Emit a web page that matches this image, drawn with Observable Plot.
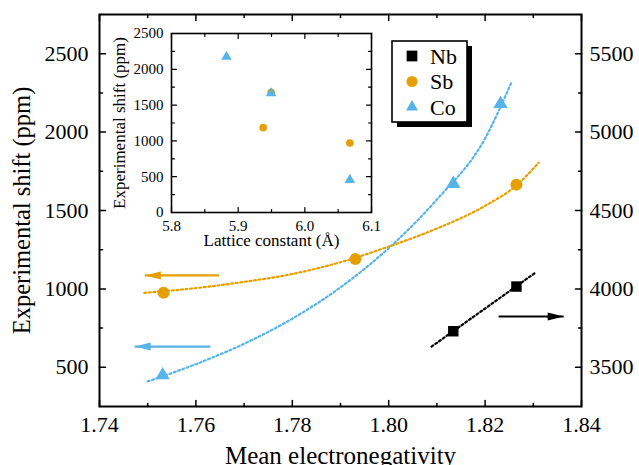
<!DOCTYPE html>
<html><head><meta charset="utf-8">
<script src="https://cdn.jsdelivr.net/npm/d3@7"></script>
<script src="https://cdn.jsdelivr.net/npm/@observablehq/plot@0.6"></script>
<style>
body{margin:0;background:#fff;}
#wrap{position:relative;width:639px;height:465px;font-family:"Liberation Serif","Times New Roman",serif;}
#wrap > *{position:absolute;}
#wrap svg text{font-family:"Liberation Serif","Times New Roman",serif;font-variant-numeric:normal;}
</style></head><body><div id="wrap"></div>
<script>
// ---------------- data ----------------
const seriesNames = ["Nb", "Sb", "Co"];
// main panel: mean electronegativity vs experimental shift
const coEN = [1.7531, 1.8134, 1.8232];
const coShift = [450, 1670, 2180];
const sbEN = [1.7533, 1.7931, 1.8265];
const sbShift = [975, 1190, 1665];
const nbEN = [1.8134, 1.8265];
const nbShiftRight = [3730, 4015]; // read on the right axis
// inset: lattice constant vs experimental shift
const coLattice = [6.0675, 5.9495, 5.8825];
const coShiftInset = [455, 1665, 2175];
const sbLattice = [6.0675, 5.9375, 5.9495];
const sbShiftInset = [970, 1185, 1680];
// dotted fit curves
const coFitEN = [1.750, 1.760, 1.770, 1.780, 1.790, 1.800, 1.810, 1.820, 1.8255];
const coFitShift = [410, 520, 650, 810, 1010, 1260, 1570, 1960, 2320];
const sbFitEN = [1.7493, 1.760, 1.770, 1.780, 1.790, 1.800, 1.810, 1.820, 1.8267, 1.8311];
const sbFitShift = [975, 1005, 1045, 1095, 1170, 1270, 1385, 1530, 1665, 1805];
const nbFitEN = [1.8089, 1.8305];
const nbFitShiftRight = [3632, 4105];
// axis arrows
const arrowSeries = ["Sb", "Co", "Nb"];
const arrowTail = [1.7648, 1.7630, 1.8228];
const arrowTip = [1.7494, 1.7473, 1.8363];
const arrowShift = [1086, 632, 3824];
const arrowOnRight = [false, false, true];
// ticks
const enTicks = [1.74, 1.76, 1.78, 1.80, 1.82, 1.84];
const enMinor = [1.75, 1.77, 1.79, 1.81, 1.83];
const shiftTicks = [500, 1000, 1500, 2000, 2500];
const shiftMinor = [750, 1250, 1750, 2250];
const rightTickLabels = [3500, 4000, 4500, 5000, 5500];
const latTicks = [5.8, 5.9, 6.0, 6.1];
const latMinor = [5.85, 5.95, 6.05];
const insetTicks = [0, 500, 1000, 1500, 2000, 2500];
const insetMinor = [250, 750, 1250, 1750, 2250];

// ---------------- styles ----------------
const FONT = '"Liberation Serif","Times New Roman",serif';
const COLORS = {Nb: "#000000", Sb: "#E69F00", Co: "#56B4E9"};
const SYMBOLS = {Nb: "square", Sb: "circle", Co: "triangle"};
const rightOffset = rightTickLabels[0] - shiftTicks[0];

const rows = (xs, ys, off = 0) => xs.map((x, i) => ({x, y: ys[i] - off}));

const tickShape = {draw(ctx, l) { ctx.moveTo(0, 0); ctx.lineTo(0, -l); }};
function tickMarks(values, side, len, sw) {
  const horiz = side === "bottom" || side === "top";
  const rot = {bottom: 0, top: 180, left: 90, right: 270}[side];
  return Plot.vector(values, {
    ...(horiz ? {x: d => d} : {y: d => d}),
    frameAnchor: side, length: len, rotate: rot, anchor: "start",
    shape: tickShape, stroke: "black", strokeWidth: sw
  });
}
function allTicks(xMaj, xMin, yMaj, yMin, big, small, sw) {
  const out = [];
  for (const s of ["bottom", "top"]) { out.push(tickMarks(xMaj, s, big, sw), tickMarks(xMin, s, small, sw)); }
  for (const s of ["left", "right"]) { out.push(tickMarks(yMaj, s, big, sw), tickMarks(yMin, s, small, sw)); }
  return out;
}
const headLeft = {draw(ctx) { ctx.moveTo(0, 0); ctx.lineTo(16, -4); ctx.lineTo(16, 4); ctx.closePath(); }};
const headRight = {draw(ctx) { ctx.moveTo(0, 0); ctx.lineTo(-16, -4); ctx.lineTo(-16, 4); ctx.closePath(); }};
const txt = {fontFamily: FONT, fill: "black"};

// ---------------- main plot ----------------
const dotted = {strokeWidth: 2.2, strokeDasharray: "2,2.6", curve: "monotone-x"};
const arrowMarks = [];
arrowSeries.forEach((s, i) => {
  const d = [{tail: arrowTail[i], tip: arrowTip[i], y: arrowShift[i] - (arrowOnRight[i] ? rightOffset : 0)}];
  arrowMarks.push(Plot.link(d, {x1: "tail", x2: "tip", y1: "y", y2: "y", stroke: COLORS[s], strokeWidth: 2.2}));
  arrowMarks.push(Plot.dot(d, {x: "tip", y: "y", symbol: arrowTip[i] < arrowTail[i] ? headLeft : headRight, fill: COLORS[s], r: 4}));
});

const main = Plot.plot({
  width: 639, height: 465,
  marginLeft: 99, marginRight: 58, marginTop: 14, marginBottom: 59,
  x: {domain: [1.74, 1.84]},
  y: {domain: [250, 2750]},
  style: {fontFamily: FONT, background: "transparent", color: "black", overflow: "visible"},
  marks: [
    Plot.line(rows(coFitEN, coFitShift), {x: "x", y: "y", stroke: COLORS.Co, ...dotted}),
    Plot.line(rows(sbFitEN, sbFitShift), {x: "x", y: "y", stroke: COLORS.Sb, ...dotted}),
    Plot.line(rows(nbFitEN, nbFitShiftRight, rightOffset), {x: "x", y: "y", stroke: COLORS.Nb, ...dotted, curve: "linear"}),
    ...arrowMarks,
    Plot.dot(rows(sbEN, sbShift), {x: "x", y: "y", symbol: "circle", r: 6, fill: COLORS.Sb}),
    Plot.dot(rows(coEN, coShift), {x: "x", y: "y", symbol: "triangle", r: 5.3, fill: COLORS.Co}),
    Plot.dot(rows(nbEN, nbShiftRight, rightOffset), {x: "x", y: "y", symbol: "square", r: 5.9, fill: COLORS.Nb}),
    ...allTicks(enTicks, enMinor, shiftTicks, shiftMinor, 6, 3, 1.5),
    Plot.frame({stroke: "black", strokeWidth: 2}),
    Plot.axisX({ticks: enTicks, tickSize: 0, tickPadding: 10, tickFormat: d => d.toFixed(2), fontSize: 22, label: null, ...txt}),
    Plot.axisY({anchor: "left", ticks: shiftTicks, tickSize: 0, tickPadding: 11, tickFormat: d3.format("d"), fontSize: 22, label: null, ...txt}),
    Plot.axisY({anchor: "right", ticks: shiftTicks, tickSize: 0, tickPadding: 8, tickFormat: d => String(d + rightOffset), fontSize: 22, label: null, ...txt}),
    Plot.text(["Mean electronegativity"], {frameAnchor: "bottom", lineAnchor: "middle", textAnchor: "middle", dy: 49, fontSize: 25, ...txt}),
    Plot.text(["Experimental shift (ppm)"], {frameAnchor: "left", lineAnchor: "middle", textAnchor: "middle", dx: -77, rotate: -90, fontSize: 24.5, ...txt})
  ]
});
main.style.left = "0px"; main.style.top = "0px";
document.getElementById("wrap").appendChild(main);

// ---------------- inset ----------------
const inset = Plot.plot({
  width: 280, height: 235,
  marginLeft: 71, marginRight: 9, marginTop: 13, marginBottom: 43,
  x: {domain: [5.8, 6.1]},
  y: {domain: [0, 2500]},
  style: {fontFamily: FONT, background: "transparent", color: "black", overflow: "visible"},
  marks: [
    Plot.dot(rows(sbLattice, sbShiftInset), {x: "x", y: "y", symbol: "circle", r: 3.8, fill: COLORS.Sb}),
    Plot.dot(rows(coLattice, coShiftInset), {x: "x", y: "y", symbol: "triangle", r: 3.9, fill: COLORS.Co}),
    ...allTicks(latTicks, latMinor, insetTicks, insetMinor, 5, 3, 1.2),
    Plot.frame({stroke: "black", strokeWidth: 1.6}),
    Plot.axisX({ticks: latTicks, tickSize: 0, tickPadding: 8, tickFormat: d => d.toFixed(1), fontSize: 15, label: null, ...txt}),
    Plot.axisY({anchor: "left", ticks: insetTicks, tickSize: 0, tickPadding: 8, tickFormat: d3.format("d"), fontSize: 15, label: null, ...txt}),
    Plot.text(["Lattice constant (Å)"], {frameAnchor: "bottom", lineAnchor: "middle", textAnchor: "middle", dy: 28.5, fontSize: 17, ...txt}),
    Plot.text(["Experimental shift (ppm)"], {frameAnchor: "left", lineAnchor: "middle", textAnchor: "middle", dx: -52, rotate: -90, fontSize: 17, ...txt})
  ]
});
inset.style.left = "100px"; inset.style.top = "20px";
document.getElementById("wrap").appendChild(inset);

// ---------------- legend ----------------
const leg = d3.select("#wrap").append("svg")
  .attr("width", 84).attr("height", 90)
  .style("left", "391px").style("top", "40px");
leg.append("rect").attr("x", 6).attr("y", 6).attr("width", 75).attr("height", 81).attr("fill", "black");
leg.append("rect").attr("x", 1).attr("y", 1).attr("width", 75).attr("height", 81)
  .attr("fill", "white").attr("stroke", "black").attr("stroke-width", 1.6);
const symType = {square: d3.symbolSquare, circle: d3.symbolCircle, triangle: d3.symbolTriangle};
const symSize = {square: 115, circle: 95, triangle: 62};
seriesNames.forEach((s, i) => {
  const cy = 16 + i * 25.5;
  leg.append("path")
    .attr("d", d3.symbol(symType[SYMBOLS[s]], symSize[SYMBOLS[s]])())
    .attr("transform", `translate(21,${cy})`).attr("fill", COLORS[s]);
  leg.append("text").attr("x", 39).attr("y", cy).attr("dy", "0.35em")
    .attr("font-family", FONT).attr("font-size", 22).attr("fill", "black").text(s);
});
</script>
</body></html>
